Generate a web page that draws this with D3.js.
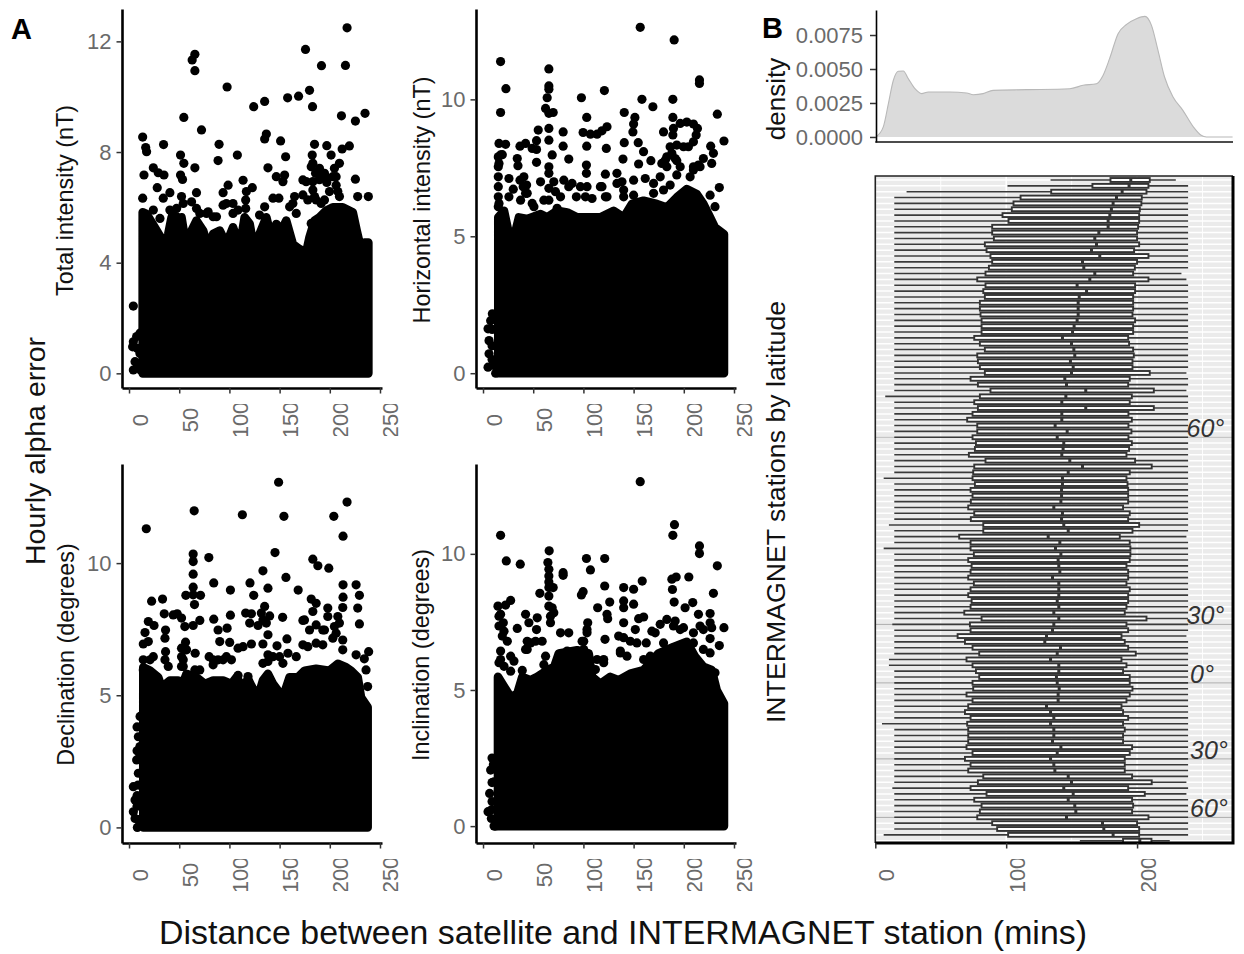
<!DOCTYPE html>
<html>
<head>
<meta charset="utf-8">
<title>Hourly alpha error</title>
<script src="https://cdnjs.cloudflare.com/ajax/libs/d3/7.8.5/d3.min.js"></script>
<style>
  html, body { margin: 0; background: #fff; }
  svg { display: block; }
  text { font-family: "Liberation Sans", Arial, sans-serif; }
</style>
</head>
<body>
<div id="chart"></div>
<script>
// values: [mins, error]
// the black mass under each scatter is kept as its upper edge, the rest are single dots

const totalEdge = [[13.6, 5.82], [17.5, 5.76], [22.5, 5.46], [27.5, 5.16], [31.5, 4.92], [35.8, 4.61], [39.1, 5.04], [42.4, 5.64], [45.7, 5.04], [49, 4.61], [52.3, 5.64], [57.3, 4.49], [62.3, 5.16], [67.2, 5.52], [73.8, 5.16], [78.8, 4.55], [83.8, 5.04], [90.4, 5.16], [97, 4.67], [103.6, 5.28], [110.3, 4.55], [115.2, 5.64], [120.2, 5.4], [125.2, 4.37], [130.1, 5.04], [136.8, 5.64], [141.7, 4.92], [146.7, 5.4], [151.7, 5.16], [156.6, 5.52], [163.2, 4.67], [169.9, 4.49], [176.5, 4.37], [179.8, 4.92], [184.8, 5.52], [189.7, 5.64], [196.4, 5.88], [203, 6], [212.9, 6], [222.9, 5.82], [226.8, 5.16], [231.1, 4.49], [234.4, 4.73], [238.4, 4.73], [238.4, 3.71]]
const totalDots = [[217.2, 12.49], [175.8, 11.71], [65.6, 11.53], [62.9, 11.33], [65.6, 10.94], [191.7, 11.12], [215.6, 11.13], [97.7, 10.35], [179.8, 10.23], [158, 9.96], [168.9, 10.02], [135.1, 9.83], [124.2, 9.64], [182.8, 9.64], [211.6, 9.31], [235.1, 9.4], [225.5, 9.12], [54.6, 9.25], [72.2, 8.8], [13.6, 8.54], [136.8, 8.65], [135.1, 8.47], [151, 8.4], [34.4, 8.27], [89.7, 8.28], [16.6, 8.16], [17.5, 8.01], [184.8, 8.28], [197, 8.23], [219.5, 8.22], [212.3, 8.11], [51.3, 7.89], [107.9, 7.89], [156, 7.83], [182.5, 7.89], [201.3, 7.89], [88.7, 7.69], [54.6, 7.59], [138.4, 7.43], [65.6, 7.43], [24.2, 7.43], [209.6, 7.59], [183.1, 7.59], [189.7, 7.41], [204.6, 7.41], [29.1, 7.25], [34.8, 7.17], [14.9, 7.17], [51.3, 7.17], [53.3, 7.01], [146.7, 7.11], [155, 7.17], [153.3, 6.93], [225.5, 7.02], [113.6, 6.98], [98.7, 6.8], [28.1, 6.71], [122.8, 6.71], [173.2, 6.99], [183.1, 6.93], [203, 7.11], [67.2, 6.53], [93.7, 6.53], [40.7, 6.53], [34.1, 6.33], [13.6, 6.33], [227.8, 6.39], [238.4, 6.39], [143.4, 6.33], [149.3, 6.33], [52.3, 6.39], [62.3, 6.2], [164.9, 6.39], [173.2, 6.45], [184.8, 6.39], [199.7, 6.57], [206.3, 6.8], [194.7, 6.27], [189.7, 7], [197, 6.9], [116.9, 6.57], [116.2, 6.27], [116.2, 5.96], [103.6, 6.14], [93.7, 6.08], [108.6, 5.9], [78.8, 5.84], [87.1, 5.66], [70.5, 5.78], [135.1, 6.02], [130, 5.72], [166.6, 5.78], [160, 6.02], [24.2, 5.9], [42.4, 5.84], [47.4, 5.66], [181.5, 5.42], [181.5, 7.47], [185.8, 7.23], [191.4, 7.17], [194.7, 7.23], [198, 7.05], [206.3, 7.11], [183.1, 6.63], [178.1, 6.27], [186.4, 6.27], [191.4, 6.14], [176.5, 6.93], [208, 6.57], [209.6, 6.39], [163.2, 6.14], [103.6, 5.78], [30.8, 5.6], [40.7, 5.9], [47.4, 5.96], [54, 6.14], [67.2, 5.96], [77.2, 5.78], [83.8, 5.66], [97, 6.14], [4.3, 2.43], [4.3, 1.14], [7.6, 1.33], [3.6, 0.96], [6, 0.42], [4.3, 0.12], [10.9, 0.72], [8.3, 0.36], [10.9, 1.45], [11.6, 0.12], [8.3, 0.9], [9, 0.2]]

const horizontalEdge = [[15.2, 5.69], [20.9, 5.93], [25.8, 5.08], [32.5, 5.2], [35.8, 5.69], [44, 5.63], [57.3, 5.81], [63.9, 5.69], [73.8, 5.93], [83.8, 5.87], [93.7, 5.69], [107, 5.69], [116.9, 5.69], [130.1, 5.93], [140.1, 5.69], [148.3, 6.18], [159.9, 6.3], [173.2, 6.18], [183.1, 6.05], [193, 6.42], [203, 6.72], [212.9, 6.54], [219.5, 6.18], [226.2, 5.69], [231.1, 5.32], [240, 5.08], [240, 3.98]]
const horizontalDots = [[156.6, 12.63], [190.4, 12.17], [17.5, 11.38], [65.6, 11.11], [215.6, 10.71], [215.6, 10.58], [65.6, 10.49], [65.6, 10.37], [22.8, 10.39], [120.9, 10.32], [98, 10.06], [63.9, 10.06], [158.3, 10], [189.1, 10], [169.2, 9.73], [17.5, 9.52], [62.3, 9.67], [65.6, 9.49], [69.9, 9.52], [233.4, 9.46], [140.7, 9.52], [151.3, 9.34], [103.3, 9.34], [189.1, 9.34], [196.4, 9.12], [203, 9.17], [209.6, 9.1], [213.6, 8.94], [212.3, 8.7], [209.6, 8.45], [204.6, 8.27], [123.5, 9], [118.5, 8.85], [113.6, 8.73], [107, 8.73], [99.7, 8.79], [150, 9.1], [149.3, 8.81], [179.8, 8.81], [189.7, 8.94], [189.1, 8.7], [55, 8.88], [79.8, 8.81], [65.6, 8.94], [65.6, 8.51], [53.3, 8.49], [42.4, 8.39], [36.8, 8.29], [240, 8.48], [140.7, 8.42], [154.6, 8.42], [15.9, 8.39], [22.5, 8.36], [79.8, 8.29], [103.3, 8.29], [122.8, 8.21], [226.8, 8.29], [186.4, 8.27], [193, 8.33], [199.7, 8.27], [53.3, 8.17], [49, 8.21], [229.5, 8.03], [159.9, 8.09], [68.9, 7.97], [17.5, 7.97], [34.1, 7.84], [85.4, 7.82], [139.4, 7.82], [53.3, 7.7], [167.2, 7.76], [155, 7.64], [227.8, 7.66], [219.5, 7.84], [34.8, 7.58], [15.9, 7.66], [178.1, 7.66], [191.4, 7.84], [65.6, 7.54], [103, 7.6], [214.6, 7.6], [183.1, 7.9], [103, 7.3], [65.6, 7.3], [121.9, 7.27], [133.4, 7.3], [40.7, 7.17], [25.8, 7.11], [176.5, 7.17], [193, 7.24], [209.6, 7.42], [161.6, 7.11], [150, 7.05], [138.4, 6.99], [80.5, 7.05], [57.3, 6.99], [43.4, 6.87], [30.1, 6.72], [97, 6.81], [116.9, 6.81], [235.4, 6.78], [88.7, 6.93], [70.5, 6.99], [169.9, 6.93], [186.4, 6.87], [140.1, 6.69], [44, 6.57], [123.5, 6.44], [226.2, 6.5], [72.2, 6.63], [37.4, 6.32], [50.7, 6.08], [73.8, 6.02], [108.6, 6.38], [25.8, 6.44], [231.1, 6.08], [15.9, 6.2], [15.2, 7.9], [15.2, 7.54], [15.2, 7.17], [15.2, 6.81], [15.2, 6.44], [15.2, 6.08], [19.2, 7.98], [36.8, 7.05], [40, 6.81], [42.4, 6.57], [49, 6.2], [60.6, 6.32], [65.6, 6.75], [65.6, 6.32], [77.2, 6.44], [85.4, 6.81], [93, 6.44], [102, 6.44], [103.6, 6.81], [118.5, 6.81], [121.9, 6.44], [133.4, 6.93], [140.1, 6.44], [150, 6.5], [169.9, 6.57], [179.8, 6.69], [183.1, 7.54], [181.5, 7.78], [188.1, 8.03], [196.4, 7.54], [193, 7.76], [206.3, 7.17], [216.2, 7.54], [209.6, 7.54], [5, 0.22], [5, 1.62], [9.3, 2.17], [6, 1.19], [6, 0.71], [7.6, 1.92], [11, 0.28], [12.6, 0], [9, 1], [9, 0.5], [9, 1.6]]

const declinationEdge = [[14.2, 6.06], [20.9, 5.93], [29.1, 5.68], [32.5, 5.3], [40.7, 5.56], [49, 5.56], [52.3, 5.3], [57.3, 5.81], [67.2, 5.68], [75.5, 5.43], [83.8, 5.56], [93.7, 5.56], [102, 5.43], [107, 5.68], [113.6, 5.3], [118.5, 5.62], [124.2, 5.18], [127.5, 4.8], [133.4, 5.56], [138.4, 5.81], [143.4, 5.43], [153.3, 4.92], [159.9, 5.68], [168.2, 5.68], [175, 5.93], [186.4, 6], [199.7, 5.93], [208, 6.19], [216.2, 6.06], [221.2, 5.93], [227.8, 5.68], [231.1, 4.92], [237.7, 4.55], [237.7, 3.66]]
const declinationDots = [[149, 13.06], [217.2, 12.31], [64.9, 11.98], [112.9, 11.83], [154.3, 11.77], [204, 11.77], [17.2, 11.3], [213.2, 11.02], [145.4, 10.4], [63.9, 10.34], [63.9, 10.06], [79.5, 10.21], [183.1, 10.15], [188.1, 9.9], [199, 9.81], [133.4, 9.71], [63.9, 9.58], [156.3, 9.46], [84.4, 9.25], [120.5, 9.25], [213.2, 9.18], [226.2, 9.18], [63.9, 9.09], [138.4, 9.05], [101, 8.98], [168.5, 8.98], [56.6, 8.78], [71.2, 8.78], [63.9, 8.8], [124.2, 8.78], [229.5, 8.78], [213.2, 8.71], [181.5, 8.64], [33.4, 8.64], [22.5, 8.56], [65.2, 8.43], [186.4, 8.48], [135.1, 8.36], [227.8, 8.3], [212.9, 8.32], [198, 8.3], [183.1, 8.17], [35.1, 8.08], [48, 8.08], [44, 8.04], [116.2, 8.11], [121.9, 8.08], [131.8, 8.11], [101, 8.03], [140.1, 8], [153, 7.95], [84.4, 7.88], [52.3, 7.92], [19.2, 7.79], [70.5, 7.83], [173.2, 7.83], [198, 7.98], [208, 7.98], [24.9, 7.64], [55.6, 7.6], [63.9, 7.64], [120.2, 7.73], [128.5, 7.64], [136.8, 7.73], [186.4, 7.66], [229.5, 7.7], [88.7, 7.47], [97.7, 7.54], [36.4, 7.47], [15.9, 7.37], [138.4, 7.29], [194.7, 7.47], [35.8, 7.16], [19.2, 7.03], [14.2, 6.94], [56.3, 7.01], [90.4, 7.03], [157.3, 7.13], [100.3, 7], [121.9, 6.94], [133.4, 6.94], [212.9, 7.09], [36.4, 6.65], [108.6, 6.78], [147.4, 6.87], [52.3, 6.78], [173.2, 6.91], [186.4, 6.97], [65.9, 6.59], [238.7, 6.65], [226.2, 6.53], [79.8, 6.46], [97, 6.46], [138.4, 6.53], [158.3, 6.59], [24.2, 6.46], [234.4, 6.38], [52.3, 6.46], [212.9, 6.72], [83.8, 6.15], [39.1, 6.09], [133.4, 6.21], [54, 6.09], [65.6, 5.96], [236.1, 5.96], [108.6, 5.75], [118.5, 5.71], [14.2, 6.34], [237.7, 5.33], [54, 6.34], [52.3, 6.09], [57.3, 6.72], [70.5, 5.96], [83.8, 6.34], [88.7, 6.34], [93.7, 6.34], [102, 6.34], [138.4, 6.28], [143.4, 6.46], [150, 6.46], [166.6, 6.46], [153.3, 6.21], [178.1, 6.84], [193, 6.91], [206.3, 7.35], [209.6, 7.73], [204.6, 7.6], [203, 7.16], [193, 7.47], [179.8, 7.47], [174.8, 7.85], [55.6, 6.72], [133.4, 7.85], [113.6, 6.84], [35.8, 6.34], [20.9, 6.34], [14.2, 5.96], [4.3, 1.54], [6, 1.04], [4.3, 0.59], [6, 0.34], [8.3, 0], [7.6, 2.55], [9.3, 2.05], [10.9, 3.06], [9.3, 3.43], [11, 4.2], [8, 3.8], [8, 2.9], [9.5, 2.6], [9, 1.6], [8, 1.2], [8, 0.8], [9, 0.3]]

const inclinationEdge = [[14.9, 5.48], [19.2, 5.23], [27.5, 4.74], [34.1, 4.86], [39.1, 5.48], [47.4, 5.36], [54, 5.48], [63.9, 5.72], [70.9, 5.85], [75.5, 6.34], [93.7, 6.46], [105.3, 6.34], [108.6, 5.48], [116.9, 5.23], [126.8, 5.48], [135.1, 5.36], [146.7, 5.6], [159.9, 5.73], [174.8, 6.34], [189.7, 6.58], [203, 6.77], [211.3, 6.22], [219.5, 5.85], [227.8, 5.73], [232.8, 4.99], [240, 4.5], [240, 3.51]]
const inclinationDots = [[156.6, 12.65], [190.7, 11.07], [17.5, 10.68], [189.1, 10.68], [215.6, 10.29], [215.6, 10.01], [65.9, 10.11], [23.2, 9.74], [103, 9.83], [121.2, 9.83], [37.1, 9.62], [64.6, 9.68], [233.4, 9.56], [107, 9.41], [79.8, 9.31], [79.8, 9.21], [65.6, 9.43], [65.6, 9.19], [65.6, 8.97], [205, 9.15], [192.4, 9.15], [188.1, 9.07], [158.6, 9], [121.2, 8.82], [65.6, 8.76], [69.9, 8.76], [140.1, 8.76], [150, 8.7], [188.7, 8.69], [99.7, 8.61], [98, 8.49], [56.6, 8.55], [65.6, 8.45], [229.5, 8.55], [27.5, 8.29], [22.5, 8.12], [14.9, 8.08], [126.2, 8.23], [140.1, 8.27], [150, 8.15], [190.4, 8.23], [208.9, 8.21], [114.2, 8.02], [201.3, 8.02], [140.1, 8.02], [68.9, 8.02], [70.5, 7.84], [17.5, 7.78], [123.5, 7.78], [226.2, 7.81], [42.4, 7.78], [54, 7.65], [160, 7.68], [155, 7.62], [214.6, 7.78], [124.2, 7.62], [67.2, 7.47], [45.7, 7.47], [104.3, 7.47], [140.1, 7.47], [183.1, 7.59], [20.2, 7.47], [226.2, 7.47], [53.3, 7.22], [34.1, 7.26], [240, 7.29], [103.6, 7.22], [151.7, 7.22], [168.2, 7.16], [176.5, 7.41], [191.4, 7.53], [20.9, 7.16], [77.2, 7.1], [85.4, 7.1], [227.8, 7.29], [199.7, 7.29], [209.6, 7.1], [24.2, 6.79], [121.5, 6.86], [135.1, 6.98], [226.2, 6.89], [58.9, 6.79], [52.3, 6.79], [44, 6.79], [100.3, 6.79], [146.7, 6.79], [162.6, 6.73], [235.4, 6.63], [44, 6.49], [17.5, 6.43], [27.5, 6.24], [136.8, 6.43], [83.8, 6.43], [100.3, 6.49], [62.3, 6.24], [120.2, 6.12], [166.6, 6.24], [143.4, 6.24], [30.8, 6.06], [15.9, 6], [39.1, 5.72], [111.9, 5.75], [27.5, 5.69], [219.5, 6.49], [15.9, 7.71], [15.9, 7.35], [19.2, 6.98], [17.5, 6.12], [20.9, 5.87], [65.6, 8.08], [67.2, 7.71], [42.4, 6.49], [47.4, 6.73], [103.6, 7.1], [98.7, 6.79], [136.8, 6.36], [140.1, 6.92], [153.3, 6.73], [160, 6.12], [166.6, 6], [171.5, 7.1], [189.7, 7.35], [196.4, 7.22], [209.6, 6.73], [216.2, 7.35], [219.5, 7.22], [60.6, 5.93], [73.8, 6], [113.6, 6.12], [120.2, 6], [179.8, 6.73], [226.2, 6.36], [231.1, 5.63], [10.3, 2.25], [10.9, 1.63], [6.6, 1.2], [5, 0.53], [8.3, 0.28], [12.6, 0], [7.6, 2.06], [9, 1.6], [9, 0.9], [8.5, 0.6], [9, 2.5], [11, 0]]

const scatterTicks = [0, 50, 100, 150, 200, 250]
const totalTicks = [0, 4, 8, 12]
const otherTicks = [0, 5, 10]

// density of all distances
const densityMins = [1, 6.1, 10, 13.8, 17.6, 21.4, 25.2, 30.3, 35.4, 40.5, 57, 69.8, 74.8, 82.4, 90, 115.6, 148.6, 158.8, 169, 174, 179, 185.5, 192, 199.5, 206, 211, 216, 221, 227.5, 235, 243, 249, 253, 273]
const densityValues = [0.00005, 0.00074, 0.00245, 0.00417, 0.00483, 0.00485, 0.00429, 0.00355, 0.00319, 0.00331, 0.00331, 0.00324, 0.00311, 0.00319, 0.00343, 0.00348, 0.00355, 0.0038, 0.00392, 0.00453, 0.00576, 0.0076, 0.00828, 0.0087, 0.00887, 0.00821, 0.00637, 0.00441, 0.00294, 0.00196, 0.00074, 0.00012, 0, 0]
const densityTicks = [0, 0.0025, 0.005, 0.0075]

// one boxplot per station, north to south
const boxLow = [133.9, 101, 23.9, 14.5, 14.5, 14.5, 14.5, 14.5, 14.5, 14.5, 14.5, 14.5, 14.5, 14.5, 14.5, 14.5, 14.5, 14.5, 14.5, 14.5, 14.5, 14.5, 14.5, 14.5, 14.5, 14.5, 14.5, 14.5, 14.5, 14.5, 14.5, 14.5, 14.5, 14.5, 14.5, 14.5, 14.5, 7.6, 14.5, 14.5, 14.5, 14.5, 14.5, 14.5, 14.5, 14.5, 14.5, 14.5, 14.5, 14.5,
  14.5, 6.4, 14.5, 14.5, 14.5, 14.5, 14.5, 14.5, 14.5, 10.4, 14.5, 14.5, 14.5, 6.4, 14.5, 14.5, 14.5, 14.5, 14.5, 14.5, 14.5, 14.5,
  14.5, 14.5, 14.5, 14.5, 13, 14.5, 14.5, 14.5, 14.5, 14.5, 10.4, 10.4, 14.5, 14.5, 14.5, 14.5, 14.5, 14.5, 14.5, 14.5, 14.5, 5.1, 14.5, 14.5, 14.5, 14.5, 14.5, 14.5, 14.5, 14.5, 14.5, 14.5, 13, 14.5, 14.5, 14.5, 14.5, 14.5, 14.5, 14.5, 6.4, 156.3]
const boxQ1 = [179.7, 165.9, 134.4, 111, 105.6, 104.3, 97.2, 101.8, 89.3, 89.3, 90.6, 83.7, 85, 88, 89.3, 86.8, 84.2, 77.9, 84.2, 82.5, 83.7, 79.9, 79.9, 80.4, 81.2, 81.2, 81.2, 75.6, 79.9, 83.7, 77.9, 78.4, 79.9, 83.7, 72.8, 78.4, 88, 79.9, 75.6, 78.4, 74.3, 70.2, 77.9, 77.9, 74.3, 76.9, 76.1, 71.5, 84.2, 75.6,
  74.8, 74.3, 76.1, 72.8, 74.3, 73, 71, 75.6, 73, 82.5, 82.5, 64.1, 72.8, 72.8, 75.3, 71, 73.6, 72.8, 71, 75.3, 72.8, 71,
  73.6, 72.8, 68, 81.2, 72.3, 72.8, 62.9, 68.5, 74.3, 79.4, 69.7, 74.3, 76.9, 79.4, 74.3, 74.8, 69.7, 74.3, 71, 68.5, 72.8, 70.2, 71, 71, 71, 69.7, 74.3, 68.5, 72.8, 71, 82.5, 78.4, 72.8, 85, 75.6, 81.2, 79.9, 77.9, 89.3, 93.1, 101.5, 189.3]
const boxMedian = [195.2, 193.9, 188.6, 184.3, 181.7, 180.4, 179.2, 177.9, 177.9, 170.8, 167.7, 169, 165.2, 171.5, 158.3, 159.3, 167.7, 163.9, 154.2, 161.4, 155.8, 155, 155, 155, 154.2, 151.9, 150.7, 143, 149.9, 151.7, 152.4, 149.1, 151.2, 149.9, 144.8, 146.1, 160.8, 145.6, 142.5, 160.8, 142.5, 142.5, 137.4, 146.6, 139, 144, 143.5, 142.5, 148.6, 158.3,
  147.4, 143, 143, 142.3, 142.3, 141.8, 136.4, 143, 142.3, 144, 147.4, 132.1, 141, 137.7, 141.8, 139.7, 140.2, 141, 135.4, 140.2, 140.2, 140.2,
  139, 140.2, 136.4, 140.2, 136.4, 135.4, 130.8, 129.5, 141.5, 139, 133.9, 140.2, 140.2, 138.4, 139, 140.5, 139.7, 139.7, 130.8, 133.9, 136.4, 133.9, 136.4, 136.4, 135.4, 141.8, 139, 133.9, 136.4, 137.2, 147.4, 149.9, 144, 151.2, 147.4, 152.4, 153.2, 146.1, 173.6, 174.6, 181.7, 202.1]
const boxQ3 = [209.7, 208.7, 207.2, 203.6, 203.3, 202.1, 201.6, 201.6, 200.8, 200, 200, 201.6, 197.7, 208.7, 200, 198.3, 197, 208.7, 198.5, 198.5, 197, 197, 197, 196.5, 198.5, 197, 197, 193.2, 193.9, 197, 197.5, 196.5, 196.5, 209.7, 194.4, 193.2, 212.8, 196, 194.4, 212.8, 193.4, 196, 193.4, 195.7, 193.4, 196, 193.9, 191.9, 198.5, 211.2,
  194.4, 191.9, 192.7, 193.2, 193.2, 193.2, 189.3, 194.4, 193.2, 201.6, 196.5, 186.8, 194.4, 194.9, 194.9, 194.4, 191.9, 193.2, 193.2, 191.9, 194.4, 193.2,
  193.2, 191.9, 190.6, 207.2, 191.9, 193.2, 188.1, 190.6, 193.2, 199, 188.1, 191.9, 189.3, 194.4, 194.4, 196.5, 194.4, 191.9, 188.1, 189.3, 193.2, 189.3, 190.6, 189.3, 189.3, 196.2, 194.4, 190.6, 190.6, 190.6, 196.2, 211.2, 193.2, 205.9, 196.2, 197, 196.2, 208.7, 200, 201.6, 201.6, 211]
const boxHigh = [229.6, 239, 239, 239, 239, 239, 239, 239, 239, 239, 239, 239, 239, 239, 239, 239, 233.9, 237.7, 239, 239, 239, 239, 239, 239, 239, 239, 239, 239, 239, 239, 239, 239, 239, 237.7, 239, 239, 237.7, 239, 239, 239, 239, 239, 239, 239, 239, 239, 239, 239, 239, 239,
  239, 239, 239, 239, 239, 239, 239, 239, 239, 239, 239, 237.7, 239, 239, 239, 239, 239, 239, 239, 239, 239, 239,
  239, 239, 239, 239, 239, 239, 237.7, 239, 239, 239, 239, 239, 239, 239, 239, 239, 239, 239, 239, 239, 239, 239, 239, 239, 239, 239, 239, 239, 239, 239, 239, 237.7, 239, 237.7, 239, 239, 239, 239, 239, 239, 239, 225]
const boxTicks = [0, 100, 200]
const boxMajorGrid = [0, 100, 200]
const boxMinorGrid = [50, 150, 250]

// latitude marks sit on these station rows
const latitudeRows = [44, 76, 86, 99, 109]
const latitudeLabels = ['60°', '30°', '0°', '30°', '60°']
const latitudeLabelX = [1186.5, 1186.5, 1190, 1190, 1190]

const stations = boxQ1.map(function (d, i) { return i })

const svg = d3.select('#chart')
  .append('svg')
  .attr('width', 1244)
  .attr('height', 954)

const defs = svg.append('defs')

// the tick labels are cut off by their viewport, top and bottom
function addLabelClip (id, axisY, labelTop, labelBottom) {
  const clip = defs.append('clipPath').attr('id', id)
  clip.append('rect').attr('x', -50).attr('y', -10).attr('width', 1400).attr('height', 20)
  clip.append('rect').attr('x', -50).attr('y', labelTop - axisY).attr('width', 1400).attr('height', labelBottom - labelTop)
}
addLabelClip('clip-top', 388, 404, 436)
addLabelClip('clip-bottom', 843, 859, 891)

const panels = [
  { title: 'Total intensity (nT)', edge: totalEdge, dots: totalDots, ticks: totalTicks, left: 122, top: 9, bottom: 388, yDomain: [-0.53, 13.17], titleX: 73, titleY: 200.5, clip: 'clip-top' },
  { title: 'Horizontal intensity (nT)', edge: horizontalEdge, dots: horizontalDots, ticks: otherTicks, left: 476, top: 9, bottom: 388, yDomain: [-0.54, 13.3], titleX: 430, titleY: 200, clip: 'clip-top' },
  { title: 'Declination (degrees)', edge: declinationEdge, dots: declinationDots, ticks: otherTicks, left: 122, top: 464, bottom: 843, yDomain: [-0.59, 13.75], titleX: 74, titleY: 654.5, clip: 'clip-bottom' },
  { title: 'Inclination (degrees)', edge: inclinationEdge, dots: inclinationDots, ticks: otherTicks, left: 476, top: 464, bottom: 843, yDomain: [-0.62, 13.3], titleX: 428.5, titleY: 655, clip: 'clip-bottom' }
]

function drawScatter (panel) {
  const x = d3.scaleLinear()
    .domain([-7, 252])
    .range([panel.left, panel.left + 260])
  const y = d3.scaleLinear()
    .domain(panel.yDomain)
    .range([panel.bottom, panel.top])

  const mass = d3.area()
    .x(function (d) { return x(d[0]) })
    .y0(y(0))
    .y1(function (d) { return y(d[1]) })

  svg.append('path')
    .datum(panel.edge)
    .attr('d', mass)
    .attr('fill', '#000')
    .attr('stroke', '#000')
    .attr('stroke-width', 8.6)
    .attr('stroke-linejoin', 'round')

  svg.append('g')
    .selectAll('circle')
    .data(panel.dots)
    .enter().append('circle')
    .attr('cx', function (d) { return x(d[0]) })
    .attr('cy', function (d) { return y(d[1]) })
    .attr('r', 4.6)
    .attr('fill', '#000')

  const yAxis = svg.append('g')
    .attr('transform', 'translate(' + panel.left + ',0)')
    .call(d3.axisLeft(y).tickValues(panel.ticks).tickSize(5.5).tickPadding(5).tickSizeOuter(0))
  const xAxis = svg.append('g')
    .attr('transform', 'translate(0,' + panel.bottom + ')')
    .attr('clip-path', 'url(#' + panel.clip + ')')
    .call(d3.axisBottom(x).tickValues(scatterTicks).tickSize(5.5).tickSizeOuter(0))
  xAxis.selectAll('text')
    .attr('x', null)
    .attr('y', null)
    .attr('dy', null)
    .attr('text-anchor', 'middle')
    .attr('transform', 'translate(18,32) rotate(-90)')
  styleAxis(yAxis, 2.6, 22)
  styleAxis(xAxis, 2.6, 22)

  svg.append('text')
    .attr('transform', 'translate(' + panel.titleX + ',' + panel.titleY + ') rotate(-90)')
    .attr('text-anchor', 'middle')
    .attr('font-size', 23.4)
    .attr('fill', '#111')
    .text(panel.title)
}

function styleAxis (axis, lineWidth, fontSize) {
  axis.select('.domain').attr('stroke', '#000').attr('stroke-width', lineWidth)
  axis.selectAll('.tick line').attr('stroke', '#333').attr('stroke-width', 1.5)
  axis.selectAll('text').attr('font-size', fontSize).attr('fill', '#6a6a6a')
  axis.attr('font-family', null)
}

panels.forEach(drawScatter)

// right column shares one x scale
const xRight = d3.scaleLinear()
  .domain([0, 273.3])
  .range([875.3, 1233])

function drawDensity () {
  const y = d3.scaleLinear()
    .domain([-0.00037, 0.00934])
    .range([142, 10])
  const shape = densityMins.map(function (d, i) { return [d, densityValues[i]] })

  svg.append('path')
    .datum(shape)
    .attr('d', d3.area()
      .x(function (d) { return xRight(d[0]) })
      .y0(y(0))
      .y1(function (d) { return y(d[1]) })
      .curve(d3.curveMonotoneX))
    .attr('fill', '#dbdbdb')
  svg.append('path')
    .datum(shape)
    .attr('d', d3.line()
      .x(function (d) { return xRight(d[0]) })
      .y(function (d) { return y(d[1]) })
      .curve(d3.curveMonotoneX))
    .attr('fill', 'none')
    .attr('stroke', '#b8b8b8')
    .attr('stroke-width', 1.1)

  const yAxis = svg.append('g')
    .attr('transform', 'translate(876,0)')
    .call(d3.axisLeft(y).tickValues(densityTicks).tickFormat(d3.format('.4f')).tickSize(6).tickPadding(7).tickSizeOuter(0))
  styleAxis(yAxis, 1.6, 22)

  svg.append('line')
    .attr('x1', xRight(0))
    .attr('x2', xRight(273.3))
    .attr('y1', 142)
    .attr('y2', 142)
    .attr('stroke', '#111')
    .attr('stroke-width', 1.6)

  svg.append('text')
    .attr('transform', 'translate(785,99) rotate(-90)')
    .attr('text-anchor', 'middle')
    .attr('font-size', 26)
    .attr('fill', '#111')
    .text('density')
}

function drawBoxes () {
  const top = 176
  const bottom = 843
  const y = d3.scalePoint()
    .domain(stations)
    .range([180, 840.7])
  const boxHeight = 3.9

  svg.append('rect')
    .attr('x', xRight(0))
    .attr('y', top)
    .attr('width', xRight(273.3) - xRight(0))
    .attr('height', bottom - top)
    .attr('fill', '#ebebeb')

  svg.append('g')
    .selectAll('line')
    .data(stations)
    .enter().append('line')
    .attr('x1', xRight(0))
    .attr('x2', xRight(273.3))
    .attr('y1', function (d) { return y(d) })
    .attr('y2', function (d) { return y(d) })
    .attr('stroke', '#fff')
    .attr('stroke-width', 1.5)

  svg.append('g')
    .selectAll('line')
    .data(boxMajorGrid.concat(boxMinorGrid))
    .enter().append('line')
    .attr('x1', function (d) { return xRight(d) })
    .attr('x2', function (d) { return xRight(d) })
    .attr('y1', top)
    .attr('y2', bottom)
    .attr('stroke', '#fff')
    .attr('stroke-width', function (d) { return boxMajorGrid.includes(d) ? 1.6 : 0.9 })

  svg.append('g')
    .selectAll('line')
    .data(latitudeRows)
    .enter().append('line')
    .attr('x1', xRight(0))
    .attr('x2', xRight(273.3))
    .attr('y1', function (d) { return y(d) })
    .attr('y2', function (d) { return y(d) })
    .attr('stroke', '#b3b3b3')
    .attr('stroke-width', 1.2)

  const rows = svg.append('g')
    .selectAll('g')
    .data(stations)
    .enter().append('g')

  rows.append('line')
    .attr('x1', function (d) { return xRight(boxLow[d]) })
    .attr('x2', function (d) { return xRight(boxHigh[d]) })
    .attr('y1', function (d) { return y(d) })
    .attr('y2', function (d) { return y(d) })
    .attr('stroke', '#3a3a3a')
    .attr('stroke-width', 1.6)
  rows.append('rect')
    .attr('x', function (d) { return xRight(boxQ1[d]) })
    .attr('y', function (d) { return y(d) - boxHeight / 2 })
    .attr('width', function (d) { return xRight(boxQ3[d]) - xRight(boxQ1[d]) })
    .attr('height', boxHeight)
    .attr('fill', '#fff')
    .attr('stroke', '#333')
    .attr('stroke-width', 1.9)
  rows.append('line')
    .attr('x1', function (d) { return xRight(boxMedian[d]) })
    .attr('x2', function (d) { return xRight(boxMedian[d]) })
    .attr('y1', function (d) { return y(d) - boxHeight / 2 })
    .attr('y2', function (d) { return y(d) + boxHeight / 2 })
    .attr('stroke', '#333')
    .attr('stroke-width', 3)

  svg.append('g')
    .selectAll('text')
    .data(latitudeRows)
    .enter().append('text')
    .attr('x', function (d, i) { return latitudeLabelX[i] })
    .attr('y', function (d) { return y(d) })
    .attr('font-size', 25)
    .attr('font-style', 'italic')
    .attr('fill', '#333')
    .text(function (d, i) { return latitudeLabels[i] })

  // border is heavier on the right and bottom
  svg.append('path')
    .attr('d', 'M' + xRight(0) + ',' + bottom + 'V' + top + 'H' + xRight(273.3))
    .attr('fill', 'none')
    .attr('stroke', '#222')
    .attr('stroke-width', 1.6)
  svg.append('path')
    .attr('d', 'M' + xRight(0) + ',' + bottom + 'H' + xRight(273.3) + 'V' + top)
    .attr('fill', 'none')
    .attr('stroke', '#000')
    .attr('stroke-width', 3)

  const xAxis = svg.append('g')
    .attr('transform', 'translate(0,' + bottom + ')')
    .attr('clip-path', 'url(#clip-bottom)')
    .call(d3.axisBottom(xRight).tickValues(boxTicks).tickSize(5.5).tickSizeOuter(0))
  xAxis.select('.domain').remove()
  xAxis.selectAll('text')
    .attr('x', null)
    .attr('y', null)
    .attr('dy', null)
    .attr('text-anchor', 'middle')
    .attr('transform', 'translate(18,32) rotate(-90)')
  styleAxis(xAxis, 0, 22)

  svg.append('text')
    .attr('transform', 'translate(785,512) rotate(-90)')
    .attr('text-anchor', 'middle')
    .attr('font-size', 26.7)
    .attr('fill', '#111')
    .text('INTERMAGNET stations by latitude')
}

drawDensity()
drawBoxes()

// shared titles and panel letters
svg.append('text')
  .attr('transform', 'translate(45,451) rotate(-90)')
  .attr('text-anchor', 'middle')
  .attr('font-size', 28.5)
  .attr('fill', '#111')
  .text('Hourly alpha error')

svg.append('text')
  .attr('x', 623)
  .attr('y', 944)
  .attr('text-anchor', 'middle')
  .attr('font-size', 33.9)
  .attr('fill', '#111')
  .text('Distance between satellite and INTERMAGNET station (mins)')

svg.append('text')
  .attr('x', 11)
  .attr('y', 39)
  .attr('font-size', 29)
  .attr('font-weight', 'bold')
  .attr('fill', '#000')
  .text('A')

svg.append('text')
  .attr('x', 762)
  .attr('y', 38)
  .attr('font-size', 29)
  .attr('font-weight', 'bold')
  .attr('fill', '#000')
  .text('B')
</script>
</body>
</html>
